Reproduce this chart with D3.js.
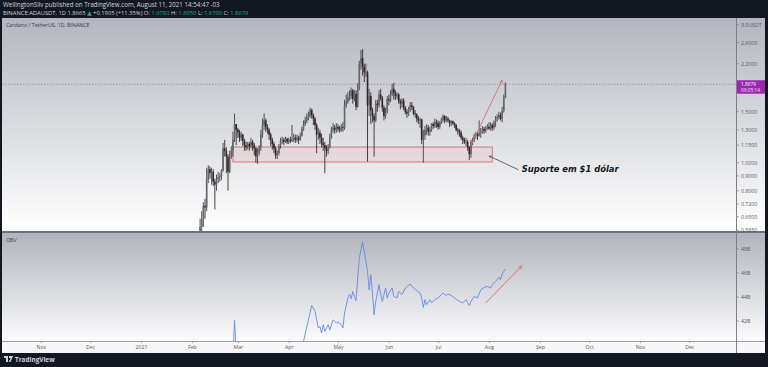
<!DOCTYPE html>
<html><head><meta charset="utf-8">
<script src="https://cdn.jsdelivr.net/npm/d3@7"></script>
<style>
html,body{margin:0;padding:0;background:#131722;overflow:hidden;}
svg{display:block;font-family:"Open Sans",Roboto,"DejaVu Sans",sans-serif;}
</style></head><body>
<svg id="c" width="768" height="367"></svg>
<script>
// ---------------- DATA ----------------
const candleStart = "2021-02-04";   // first daily candle
const firstOpen = 0.40;
const closes = [
  // Feb 4..28
  0.42,0.49,0.60,0.64,0.71,0.70,0.88,0.95,0.92,0.93,0.86,0.84,0.88,0.89,0.90,0.94,1.12,1.10,1.05,0.93,1.05,1.10,1.20,1.36,1.30,
  // Mar 1..31
  1.27,1.22,1.25,1.19,1.15,1.13,1.16,1.14,1.18,1.15,1.12,1.05,1.08,1.13,1.25,1.35,1.40,1.33,1.30,1.25,1.20,1.16,1.12,1.06,1.08,1.14,1.19,1.20,1.18,1.21,1.18,
  // Apr 1..30
  1.20,1.19,1.21,1.22,1.20,1.22,1.20,1.24,1.30,1.36,1.40,1.43,1.45,1.52,1.46,1.42,1.35,1.25,1.27,1.22,1.17,1.15,1.12,1.10,1.13,1.22,1.30,1.32,1.30,1.33,
  // May 1..31
  1.31,1.30,1.33,1.32,1.58,1.62,1.68,1.70,1.78,1.66,1.73,1.56,1.80,2.20,2.30,2.15,2.05,2.05,1.58,1.70,1.52,1.45,1.40,1.60,1.58,1.72,1.68,1.55,1.45,1.50,1.66,
  // Jun 1..30
  1.64,1.72,1.80,1.74,1.70,1.72,1.63,1.60,1.64,1.55,1.50,1.48,1.53,1.58,1.56,1.48,1.47,1.42,1.40,1.41,1.20,1.24,1.30,1.32,1.28,1.30,1.36,1.34,1.38,1.37,
  // Jul 1..31
  1.33,1.38,1.41,1.45,1.40,1.42,1.40,1.37,1.39,1.37,1.35,1.30,1.29,1.27,1.22,1.20,1.18,1.18,1.13,1.07,1.18,1.20,1.24,1.25,1.24,1.27,1.28,1.31,1.29,1.32,1.33,
  // Aug 1..11
  1.31,1.35,1.32,1.38,1.42,1.44,1.46,1.42,1.51,1.678,1.8679
];
const highs = [
  0.45,0.51,0.64,0.68,0.73,0.75,0.96,0.98,0.97,0.96,0.95,0.88,0.91,0.93,0.92,0.95,1.17,1.20,1.13,1.07,1.10,1.14,1.28,1.48,1.36,
  1.32,1.30,1.28,1.26,1.21,1.18,1.18,1.18,1.22,1.20,1.17,1.13,1.12,1.15,1.30,1.42,1.48,1.42,1.36,1.32,1.27,1.22,1.18,1.14,1.10,1.16,1.22,1.23,1.22,1.23,1.22,
  1.22,1.23,1.35,1.26,1.25,1.25,1.24,1.27,1.33,1.40,1.44,1.48,1.50,1.55,1.54,1.48,1.44,1.37,1.32,1.30,1.26,1.22,1.18,1.15,1.16,1.26,1.33,1.37,1.35,1.37,
  1.36,1.34,1.36,1.38,1.65,1.72,1.75,1.78,1.82,1.80,1.78,1.78,1.88,2.25,2.45,2.47,2.20,2.20,2.08,1.80,1.75,1.55,1.48,1.65,1.65,1.78,1.80,1.70,1.58,1.55,1.70,
  1.72,1.78,1.87,1.89,1.78,1.75,1.74,1.66,1.67,1.67,1.57,1.53,1.56,1.62,1.62,1.57,1.52,1.48,1.45,1.43,1.42,1.30,1.34,1.36,1.35,1.33,1.37,1.38,1.42,1.41,
  1.40,1.39,1.43,1.47,1.46,1.45,1.44,1.41,1.40,1.40,1.38,1.36,1.32,1.31,1.29,1.24,1.22,1.22,1.20,1.14,1.20,1.22,1.26,1.28,1.27,1.40,1.32,1.34,1.33,1.34,1.36,
  1.38,1.38,1.37,1.40,1.45,1.47,1.50,1.49,1.56,1.72,1.895
];
const lows = [
  0.40,0.41,0.49,0.55,0.60,0.64,0.68,0.85,0.88,0.84,0.83,0.69,0.80,0.85,0.86,0.87,0.93,1.05,0.92,0.80,0.92,1.03,1.05,1.18,1.15,
  1.22,1.18,1.19,1.14,1.10,1.10,1.11,1.10,1.12,1.10,1.06,1.00,0.99,1.06,1.10,1.22,1.30,1.28,1.26,1.20,1.14,1.11,1.08,1.03,1.03,1.06,1.12,1.16,1.15,1.17,1.16,
  1.16,1.17,1.18,1.18,1.17,1.18,1.16,1.19,1.23,1.29,1.34,1.37,1.40,1.43,1.42,1.35,1.30,1.08,1.20,1.16,1.13,1.10,0.92,1.05,1.07,1.12,1.21,1.27,1.26,1.27,
  1.28,1.27,1.28,1.28,1.30,1.55,1.60,1.64,1.66,1.60,1.63,1.52,1.55,1.78,2.10,2.00,1.90,1.98,1.01,1.45,1.36,1.38,1.05,1.38,1.50,1.55,1.64,1.50,1.40,1.42,1.48,
  1.58,1.62,1.70,1.65,1.65,1.66,1.60,1.53,1.55,1.52,1.47,1.43,1.45,1.50,1.52,1.46,1.43,1.38,1.36,1.32,1.16,1.00,1.20,1.25,1.24,1.24,1.28,1.31,1.32,1.32,
  1.30,1.31,1.36,1.38,1.37,1.38,1.38,1.33,1.34,1.35,1.32,1.28,1.25,1.23,1.20,1.16,1.16,1.14,1.10,1.02,1.04,1.15,1.18,1.21,1.20,1.23,1.22,1.26,1.26,1.27,1.30,
  1.30,1.29,1.29,1.30,1.33,1.39,1.41,1.40,1.38,1.49,1.67
];
const lastPrice = 1.8679;
const lastTime = "09:05:14";

const obvDates = ["2021-02-20","2021-02-26","2021-02-27","2021-02-28","2021-03-15","2021-04-01","2021-04-09","2021-04-10","2021-04-15","2021-04-17","2021-04-19","2021-04-20","2021-04-21","2021-04-22","2021-04-23","2021-04-25","2021-04-26","2021-04-28","2021-04-30","2021-05-01","2021-05-03","2021-05-04","2021-05-05","2021-05-07","2021-05-08","2021-05-09","2021-05-10","2021-05-11","2021-05-12","2021-05-13","2021-05-14","2021-05-16","2021-05-18","2021-05-19","2021-05-20","2021-05-21","2021-05-22","2021-05-23","2021-05-24","2021-05-26","2021-05-27","2021-05-28","2021-05-30","2021-05-31","2021-06-01","2021-06-03","2021-06-04","2021-06-06","2021-06-07","2021-06-09","2021-06-11","2021-06-14","2021-06-16","2021-06-18","2021-06-20","2021-06-21","2021-06-22","2021-06-23","2021-06-24","2021-06-26","2021-06-27","2021-06-29","2021-07-01","2021-07-03","2021-07-04","2021-07-06","2021-07-07","2021-07-09","2021-07-11","2021-07-14","2021-07-16","2021-07-18","2021-07-20","2021-07-21","2021-07-23","2021-07-25","2021-07-27","2021-07-29","2021-07-31","2021-08-02","2021-08-03","2021-08-05","2021-08-07","2021-08-08","2021-08-09","2021-08-11"];
const obvValues = [38.6,39.0,42.05,39.3,38.8,39.0,39.6,40.3,43.3,42.8,41.42,41.55,41.0,41.7,41.13,41.7,41.27,42.1,41.83,41.92,41.7,41.42,42.67,43.92,44.2,43.86,44.47,44.05,43.7,45.58,47.25,48.58,46.97,46.13,44.6,45.86,44.33,42.52,43.63,45.03,44.2,43.63,44.75,43.92,44.33,44.75,44.05,43.92,44.47,44.2,44.75,45.08,44.75,44.53,44.33,43.92,43.13,43.78,43.36,43.78,43.5,43.78,43.92,44.2,44.33,44.13,44.25,44.13,43.92,43.63,43.5,43.78,43.3,43.63,44.05,43.92,44.6,44.8,44.88,44.75,45.03,45.3,45.63,45.44,45.92,46.33];

// 1.8000 sits under the last-price tag in the reference, so only the visible ticks are labelled
const priceTicks = [3.0,2.6,2.2,1.5,1.3,1.15,1.0,0.9,0.8,0.72,0.65,0.585];
const obvTicks = [42,44,46,48];
const monthTicks = ["2020-11-01","2020-12-01","2021-01-01","2021-02-01","2021-03-01","2021-04-01","2021-05-01","2021-06-01","2021-07-01","2021-08-01","2021-09-01","2021-10-01","2021-11-01","2021-12-01"];
const monthLabels = ["Nov","Dec","2021","Feb","Mar","Apr","May","Jun","Jul","Aug","Sep","Oct","Nov","Dec"];

const supportZone = {from:"2021-02-26", to:"2021-08-03", lo:1.006, hi:1.133};
const priceArrow = {from:["2021-07-21",1.15], to:["2021-08-09",1.93]};
const obvArrow = {from:["2021-07-30",43.5], to:["2021-08-21",46.6]};
const noteArrow = {from:["2021-08-19",0.945], to:["2021-08-01",1.055]};
const noteText = "Suporte em $1 dólar";
const noteAt = ["2021-08-21",0.925];

// ---------------- LAYOUT ----------------
const svg = d3.select("#c");
const L = 2, PR = 736, SR = 765;
const mT = 18, mB = 231, oT = 233, oB = 341, tB = 353;
const P = d3.utcParse("%Y-%m-%d");

const x = d3.scaleUtc().domain([P("2021-01-01"), P("2021-08-01")]).range([141, 489]);
const y = d3.scaleLog().domain([1.0, 2.6]).range([162.7, 42.7]);
const yo = d3.scaleLinear().domain([42, 48]).range([321, 249]);

const defs = svg.append("defs");
function grad(id, c0, c1){
  const g = defs.append("linearGradient").attr("id", id).attr("x1",0).attr("y1",0).attr("x2",0).attr("y2",1);
  g.append("stop").attr("offset","0%").attr("stop-color",c0);
  g.append("stop").attr("offset","100%").attr("stop-color",c1);
}
grad("gm","#b3b6be","#ffffff");
grad("go","#b1b4bc","#fbfbfc");
defs.append("clipPath").attr("id","cm").append("rect").attr("x",L).attr("y",mT).attr("width",PR-L).attr("height",mB-mT);
defs.append("clipPath").attr("id","co").append("rect").attr("x",L).attr("y",oT).attr("width",PR-L).attr("height",oB-oT);
const mk = defs.append("marker").attr("id","ah").attr("viewBox","0 0 10 10").attr("refX",9).attr("refY",5)
  .attr("markerWidth",5).attr("markerHeight",5).attr("orient","auto");
mk.append("path").attr("d","M1,1 L9,5 L1,9").attr("fill","none").attr("stroke","#e06a70").attr("stroke-width",1.4);
const mk2 = defs.append("marker").attr("id","ah2").attr("viewBox","0 0 10 10").attr("refX",9).attr("refY",5)
  .attr("markerWidth",4).attr("markerHeight",4).attr("orient","auto");
mk2.append("path").attr("d","M1,1 L9,5 L1,9").attr("fill","none").attr("stroke","#444a58").attr("stroke-width",1.4);

// backgrounds
svg.append("rect").attr("x",L).attr("y",mT).attr("width",SR-L).attr("height",mB-mT).attr("fill","url(#gm)");
svg.append("rect").attr("x",L).attr("y",oT).attr("width",SR-L).attr("height",oB-oT).attr("fill","url(#go)");
svg.append("rect").attr("x",L).attr("y",oB).attr("width",SR-L).attr("height",tB-oB).attr("fill","#f7f7f9");
svg.append("line").attr("x1",L).attr("x2",SR).attr("y1",mB+1).attr("y2",mB+1).attr("stroke","#8d9097").attr("stroke-width",1.5);
svg.append("line").attr("x1",L).attr("x2",SR).attr("y1",oB+0.5).attr("y2",oB+0.5).attr("stroke","#9a9da4");
svg.append("line").attr("x1",PR+0.5).attr("x2",PR+0.5).attr("y1",mT).attr("y2",tB).attr("stroke","#7c7f86");

// header
const hdr = svg.append("g").attr("fill","#d1d4dc");
hdr.append("text").attr("x",3).attr("y",7.2).attr("font-size",6.2).text("WellingtonSilv published on TradingView.com, August 11, 2021 14:54:47 -03");
const h2 = hdr.append("text").attr("x",3).attr("y",15).attr("font-size",5.8);
h2.append("tspan").text("BINANCE:ADAUSDT, 1D 1.8665 ");
h2.append("tspan").attr("fill","#26a69a").text("▲");
h2.append("tspan").text(" +0.1905 (+11.35%) O: ");
h2.append("tspan").attr("fill","#26a69a").text("1.6780");
h2.append("tspan").text(" H: ");
h2.append("tspan").attr("fill","#26a69a").text("1.8950");
h2.append("tspan").text(" L: ");
h2.append("tspan").attr("fill","#26a69a").text("1.6700");
h2.append("tspan").text(" C: ");
h2.append("tspan").attr("fill","#26a69a").text("1.8679");

svg.append("text").attr("x",6).attr("y",27).attr("font-size",5.3).attr("fill","#3a3e48").text("Cardano / TetherUS, 1D, BINANCE");
svg.append("text").attr("x",6).attr("y",242).attr("font-size",5.3).attr("fill","#3a3e48").text("OBV");

// ---------------- MAIN PANE ----------------
const gm = svg.append("g").attr("clip-path","url(#cm)");
gm.append("rect").attr("x",x(P(supportZone.from))).attr("y",y(supportZone.hi))
  .attr("width",x(P(supportZone.to))-x(P(supportZone.from))).attr("height",y(supportZone.lo)-y(supportZone.hi))
  .attr("fill","rgba(242,54,69,0.07)").attr("stroke","#e0676c").attr("stroke-width",0.9);
gm.append("line").attr("x1",L).attr("x2",PR).attr("y1",y(lastPrice)).attr("y2",y(lastPrice))
  .attr("stroke","#978fa6").attr("stroke-width",0.8).attr("stroke-dasharray","1.5,1.5");

const start = P(candleStart);
const candles = closes.map((c,i)=>({
  d: d3.utcDay.offset(start,i),
  o: i===0 ? firstOpen : closes[i-1],
  h: highs[i], l: lows[i], c: c
}));
const cg = gm.append("g");
cg.selectAll("line.w").data(candles).join("line")
  .attr("x1",d=>x(d.d)).attr("x2",d=>x(d.d)).attr("y1",d=>y(d.h)).attr("y2",d=>y(d.l))
  .attr("stroke",d=>d.c>=d.o?"#35383d":"#2a2020").attr("stroke-width",0.85);
cg.selectAll("rect.b").data(candles).join("rect")
  .attr("x",d=>x(d.d)-0.8).attr("width",1.6)
  .attr("y",d=>y(Math.max(d.o,d.c))).attr("height",d=>Math.max(0.8,Math.abs(y(d.o)-y(d.c))))
  .attr("fill",d=>d.c>=d.o?"#64676c":"#352323");

gm.append("line").attr("x1",x(P(priceArrow.from[0]))).attr("y1",y(priceArrow.from[1]))
  .attr("x2",x(P(priceArrow.to[0]))).attr("y2",y(priceArrow.to[1]))
  .attr("stroke","#e06a70").attr("stroke-width",0.9).attr("marker-end","url(#ah)");
gm.append("line").attr("x1",x(P(noteArrow.from[0]))).attr("y1",y(noteArrow.from[1]))
  .attr("x2",x(P(noteArrow.to[0]))).attr("y2",y(noteArrow.to[1]))
  .attr("stroke","#444a58").attr("stroke-width",0.8).attr("marker-end","url(#ah2)");
gm.append("text").attr("x",x(P(noteAt[0]))).attr("y",y(noteAt[1]))
  .attr("font-size",8.4).attr("font-style","italic").attr("font-weight","bold").attr("fill","#131722")
  .attr("font-family","'DejaVu Sans',sans-serif").text(noteText);

// price scale
const ps = svg.append("g");
ps.selectAll("line").data(priceTicks).join("line")
  .attr("x1",PR).attr("x2",PR+3).attr("y1",d=>y(d)).attr("y2",d=>y(d)).attr("stroke","#7c7f86").attr("stroke-width",0.7);
ps.selectAll("text").data(priceTicks).join("text")
  .attr("x",PR+5).attr("y",d=>y(d)+2).attr("font-size",5.2).attr("fill","#555a66")
  .text(d=> d===3.0 ? "3.0USDT" : d.toFixed(4));
const ty = y(lastPrice);
ps.append("rect").attr("x",PR+1).attr("y",ty-4).attr("width",SR-PR-1).attr("height",13.5).attr("fill","#9c27b0");
ps.append("text").attr("x",PR+5).attr("y",ty+1.8).attr("font-size",4.8).attr("fill","#fff").text(lastPrice.toFixed(4));
ps.append("text").attr("x",PR+5).attr("y",ty+8).attr("font-size",4.8).attr("fill","#f0e0f5").text(lastTime);

// ---------------- OBV PANE ----------------
const go = svg.append("g").attr("clip-path","url(#co)");
const obv = obvDates.map((d,i)=>({d:P(d), v:obvValues[i]}));
go.append("path").datum(obv)
  .attr("d", d3.line().x(d=>x(d.d)).y(d=>yo(d.v)))
  .attr("fill","none").attr("stroke","#5f84e8").attr("stroke-width",0.85);
go.append("line").attr("x1",x(P(obvArrow.from[0]))).attr("y1",yo(obvArrow.from[1]))
  .attr("x2",x(P(obvArrow.to[0]))).attr("y2",yo(obvArrow.to[1]))
  .attr("stroke","#e06a70").attr("stroke-width",0.9).attr("marker-end","url(#ah)");
const os = svg.append("g");
os.selectAll("line").data(obvTicks).join("line")
  .attr("x1",PR).attr("x2",PR+3).attr("y1",d=>yo(d)).attr("y2",d=>yo(d)).attr("stroke","#7c7f86").attr("stroke-width",0.7);
os.selectAll("text").data(obvTicks).join("text")
  .attr("x",PR+5).attr("y",d=>yo(d)+2).attr("font-size",5.2).attr("fill","#555a66").text(d=>d+"B");

// ---------------- TIME AXIS ----------------
const ta = svg.append("g").attr("transform",`translate(0,${oB})`);
const axis = d3.axisBottom(x).tickValues(monthTicks.map(P)).tickSize(2).tickPadding(2)
  .tickFormat((d,i)=>monthLabels[i]);
ta.call(axis);
ta.select(".domain").remove();
ta.selectAll(".tick line").attr("stroke","#9a9da4");
ta.selectAll(".tick text").attr("font-size",5.2).attr("fill","#555a66").attr("font-family","'Open Sans',sans-serif");

// footer logo
const ft = svg.append("g").attr("transform","translate(4,356)");
ft.append("path").attr("d","M0,0 H4 V6 H2 V2 H0 Z M5,0 H9 L6.5,6 H4.8 L6.6,2 H5 Z").attr("fill","#d1d4dc");
ft.append("text").attr("x",11).attr("y",5.8).attr("font-size",6.4).attr("font-weight","bold").attr("fill","#d1d4dc").text("TradingView");
</script></body></html>
